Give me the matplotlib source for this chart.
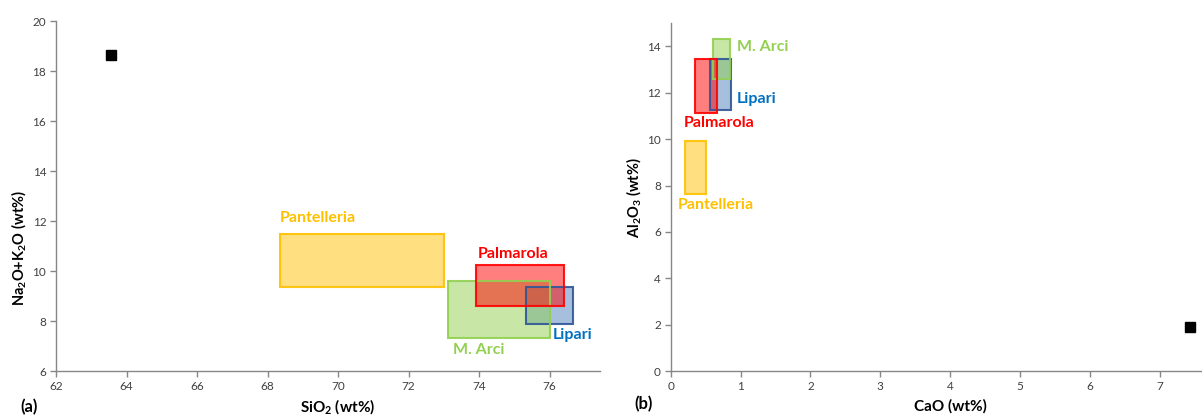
import matplotlib
matplotlib.use("Agg")
import matplotlib.pyplot as plt
from matplotlib.patches import Rectangle

plt.rcParams['font.family'] = ['Lato', 'DejaVu Sans']
plt.rcParams['mathtext.default'] = 'regular'

# Compositional fields: (name, x_min, x_max, y_min, y_max)
groups = ["Pantelleria", "Lipari", "M. Arci", "Palmarola"]
sio2_min = [68.35, 75.34, 73.13, 73.92]
sio2_max = [73.00, 76.66, 76.02, 76.40]
alk_min = [9.35, 7.90, 7.33, 8.60]
alk_max = [11.50, 9.36, 9.60, 10.24]

cao_min = [0.20, 0.56, 0.60, 0.35]
cao_max = [0.50, 0.86, 0.85, 0.66]
al_min = [7.62, 11.27, 12.58, 11.14]
al_max = [9.92, 13.47, 14.33, 13.47]

# Single sample
sample_sio2, sample_alk = 63.55, 18.63
sample_cao, sample_al = 7.43, 1.90

fill_colors = {"Pantelleria": "#FFC000", "M. Arci": "#92D050",
               "Palmarola": "#FF0000", "Lipari": "#4F81BD"}
edge_colors = {"Pantelleria": "#FFC000", "M. Arci": "#92D050",
               "Palmarola": "#FF0000", "Lipari": "#2F5597"}
text_colors = {"Pantelleria": "#FFC000", "M. Arci": "#92D050",
               "Palmarola": "#FF0000", "Lipari": "#0070C0"}

# Label anchor positions (data coords, left/center aligned)
lab_a = {"Pantelleria": (68.35, 12.1), "Palmarola": (73.96, 10.7),
         "Lipari": (76.1, 7.45), "M. Arci": (73.25, 6.85)}
lab_b = {"M. Arci": (0.95, 13.97), "Lipari": (0.94, 11.72),
         "Palmarola": (0.19, 10.71), "Pantelleria": (0.10, 7.15)}

W, H = 1202, 417
fig = plt.figure(figsize=(W / 100, H / 100), dpi=100)

ax1 = fig.add_axes([56 / W, (H - 371) / H, (600 - 56) / W, (371 - 21) / H])
ax2 = fig.add_axes([670.6 / W, (H - 371) / H, (W - 670.6) / W, (371 - 23.3) / H])

spine_col = "#878787"


def style(ax):
    for s in ("top", "right"):
        ax.spines[s].set_visible(False)
    for s in ("left", "bottom"):
        ax.spines[s].set_color(spine_col)
        ax.spines[s].set_linewidth(1.0)
    ax.tick_params(direction="out", length=4, width=1, color=spine_col,
                   labelsize=8.5, labelcolor="#404040", pad=3)


def draw_fields(ax, xmin, xmax, ymin, ymax, labpos):
    for i, g in enumerate(groups):
        ax.add_patch(Rectangle((xmin[i], ymin[i]), xmax[i] - xmin[i], ymax[i] - ymin[i],
                               facecolor=fill_colors[g], alpha=0.5, edgecolor="none", zorder=2))
        ax.add_patch(Rectangle((xmin[i], ymin[i]), xmax[i] - xmin[i], ymax[i] - ymin[i],
                               facecolor="none", edgecolor=edge_colors[g], linewidth=1.5,
                               alpha=0.9, zorder=3))
        x, y = labpos[g]
        ax.text(x, y, g, color=text_colors[g], fontsize=11.5, fontweight="bold",
                ha="left", va="center", zorder=4)


# (a) total alkali vs silica
style(ax1)
draw_fields(ax1, sio2_min, sio2_max, alk_min, alk_max, lab_a)
ax1.plot([sample_sio2], [sample_alk], marker="s", color="black", markersize=6.5,
         linestyle="none", zorder=5)
ax1.set_xlim(62, 77.43)
ax1.set_ylim(6, 20)
ax1.set_xticks(range(62, 77, 2))
ax1.set_yticks(range(6, 21, 2))
ax1.set_xlabel("SiO$_2$ (wt%)", fontsize=11, fontweight="bold")
ax1.set_ylabel("Na$_2$O+K$_2$O (wt%)", fontsize=10.5, fontweight="bold")
ax1.xaxis.label.set_va("center")
ax1.xaxis.set_label_coords(0.517, -0.103)
ax1.yaxis.set_label_coords(-0.051, 0.351)
fig.text(29 / W, (H - 407) / H, "(a)", fontsize=12, fontweight="bold",
         ha="center", va="center")

# (b) alumina vs CaO
style(ax2)
draw_fields(ax2, cao_min, cao_max, al_min, al_max, lab_b)
ax2.plot([sample_cao], [sample_al], marker="s", color="black", markersize=6.5,
         linestyle="none", zorder=5, clip_on=False)
ax2.set_xlim(0, 7.6)
ax2.set_ylim(0, 15)
ax2.set_xticks(range(0, 8))
ax2.set_yticks(range(0, 15, 2))
ax2.set_xlabel("CaO (wt%)", fontsize=11, fontweight="bold")
ax2.set_ylabel("Al$_2$O$_3$ (wt%)", fontsize=10.5, fontweight="bold")
ax2.xaxis.label.set_va("center")
ax2.xaxis.set_label_coords(0.526, -0.103)
ax2.yaxis.set_label_coords(-0.052, 0.5)
fig.text(644 / W, (H - 404) / H, "(b)", fontsize=12, fontweight="bold",
         ha="center", va="center")

fig.savefig("out.png", dpi=100, facecolor="white")
